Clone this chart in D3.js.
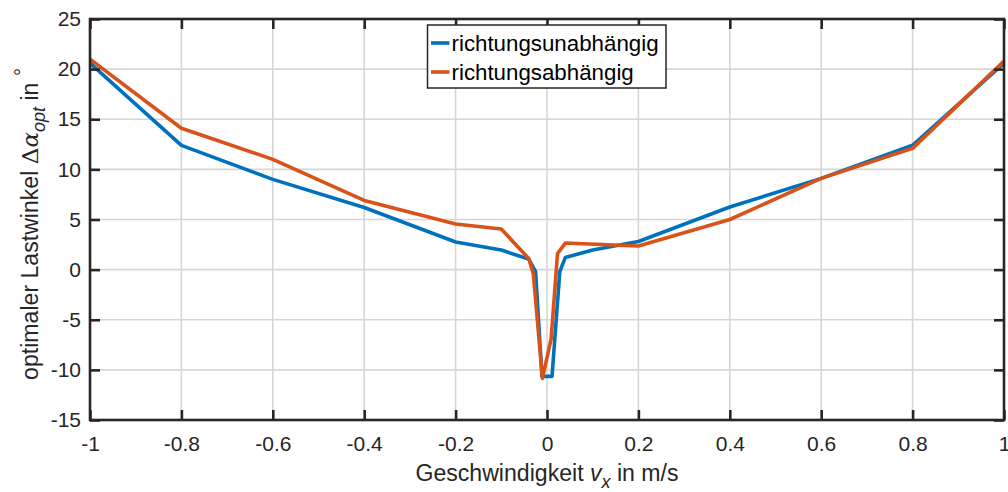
<!DOCTYPE html>
<html>
<head>
<meta charset="utf-8">
<script src="https://cdn.jsdelivr.net/npm/d3@7"></script>
<style>
  html, body { margin: 0; padding: 0; background: #fff; }
  svg { display: block; font-family: "Liberation Sans", Arial, Helvetica, sans-serif; }
</style>
</head>
<body>
<svg id="chart" width="1008" height="492"></svg>
<script>
// ---- data ----
const seriesNames = ["richtungsunabhängig", "richtungsabhängig"];
const seriesColors = ["#0072BD", "#D95319"];

const xBlue = [-1, -0.8, -0.6, -0.4, -0.2, -0.1, -0.04, -0.025, -0.011, 0.011, 0.028, 0.04, 0.1, 0.2, 0.4, 0.6, 0.8, 1];
const yBlue = [20.6, 12.4, 9.0, 6.2, 2.75, 1.95, 1.05, -0.2, -10.65, -10.65, -0.2, 1.2, 1.96, 2.8, 6.25, 9.1, 12.4, 20.6];

const xOrange = [-1, -0.8, -0.6, -0.4, -0.2, -0.1, -0.04, -0.03, -0.01, 0.009, 0.023, 0.04, 0.2, 0.4, 0.6, 0.8, 1];
const yOrange = [21.0, 14.1, 11.0, 6.9, 4.55, 4.05, 1.1, -0.4, -10.85, -6.9, 1.6, 2.65, 2.35, 5.0, 9.1, 12.1, 20.8];

const xTicks = [-1, -0.8, -0.6, -0.4, -0.2, 0, 0.2, 0.4, 0.6, 0.8, 1];
const yTicks = [-15, -10, -5, 0, 5, 10, 15, 20, 25];

// ---- layout ----
const svg = d3.select("#chart");
const m = { left: 90, top: 19, right: 1004, bottom: 420 };
const x = d3.scaleLinear().domain([-1, 1]).range([m.left, m.right]);
const y = d3.scaleLinear().domain([-15, 25]).range([m.bottom, m.top]);
const axisColor = "#262626";
const tickLen = 10;

// grid
const grid = svg.append("g");
grid.selectAll("line.gx").data(xTicks).join("line")
  .attr("x1", d => x(d)).attr("x2", d => x(d))
  .attr("y1", m.top).attr("y2", m.bottom)
  .attr("stroke", "#d6d6d6").attr("stroke-width", 1.6);
grid.selectAll("line.gy").data(yTicks).join("line")
  .attr("y1", d => y(d)).attr("y2", d => y(d))
  .attr("x1", m.left).attr("x2", m.right)
  .attr("stroke", "#d6d6d6").attr("stroke-width", 1.6);

// lines
const series = [
  xBlue.map((v, i) => [v, yBlue[i]]),
  xOrange.map((v, i) => [v, yOrange[i]])
];
const line = d3.line().x(d => x(d[0])).y(d => y(d[1]));
series.forEach((s, i) => {
  svg.append("path").datum(s)
    .attr("d", line)
    .attr("fill", "none")
    .attr("stroke", seriesColors[i])
    .attr("stroke-width", 3.6)
    .attr("stroke-linejoin", "round");
});

// axes (ticks inward on all four sides)
const fs = 21;
const lfs = 23.1;
const bottomAxis = d3.axisBottom(x).tickValues(xTicks).tickSizeInner(-tickLen).tickSizeOuter(0)
  .tickPadding(16).tickFormat(d => String(d));
const topAxis = d3.axisTop(x).tickValues(xTicks).tickSizeInner(-tickLen).tickSizeOuter(0).tickFormat("");
const leftAxis = d3.axisLeft(y).tickValues(yTicks).tickSizeInner(-tickLen).tickSizeOuter(0)
  .tickPadding(9).tickFormat(d => String(d));
const rightAxis = d3.axisRight(y).tickValues(yTicks).tickSizeInner(-tickLen).tickSizeOuter(0).tickFormat("");

function styleAxis(g) {
  g.select(".domain").remove();
  g.selectAll(".tick line").attr("stroke", axisColor).attr("stroke-width", 2.6);
  g.selectAll(".tick text").attr("fill", axisColor).attr("font-size", fs)
    .attr("font-family", "'Liberation Sans', Arial, sans-serif");
}
svg.append("g").attr("transform", `translate(0,${m.bottom})`).call(bottomAxis).call(styleAxis);
svg.append("g").attr("transform", `translate(0,${m.top})`).call(topAxis).call(styleAxis);
svg.append("g").attr("transform", `translate(${m.left},0)`).call(leftAxis).call(styleAxis);
svg.append("g").attr("transform", `translate(${m.right},0)`).call(rightAxis).call(styleAxis);

// frame
svg.append("rect")
  .attr("x", m.left).attr("y", m.top)
  .attr("width", m.right - m.left).attr("height", m.bottom - m.top)
  .attr("fill", "none").attr("stroke", axisColor).attr("stroke-width", 2.6);

// x label
const xl = svg.append("text")
  .attr("x", 547).attr("y", 481)
  .attr("text-anchor", "middle").attr("font-size", lfs).attr("fill", axisColor);
xl.append("tspan").text("Geschwindigkeit ");
xl.append("tspan").attr("font-style", "italic").text("v");
xl.append("tspan").attr("font-style", "italic").attr("font-size", 18).attr("dy", 7).text("x");
xl.append("tspan").attr("dy", -7).text(" in m/s");

// y label
const yl = svg.append("text")
  .attr("transform", `translate(38,${224}) rotate(-90)`)
  .attr("text-anchor", "middle").attr("font-size", lfs).attr("fill", axisColor);
yl.append("tspan").text("optimaler Lastwinkel ");
yl.append("tspan").attr("font-family", "'DejaVu Serif', serif").text("Δ");
yl.append("tspan").attr("font-family", "'DejaVu Serif', serif").attr("font-style", "italic").text("α");
yl.append("tspan").attr("font-style", "italic").attr("font-size", 18).attr("dy", 7).text("opt");
yl.append("tspan").attr("dy", -7).text(" in ");
yl.append("tspan").attr("dy", -9).attr("font-size", 20).text("°");

// legend
const lg = svg.append("g");
lg.append("rect").attr("x", 427.5).attr("y", 25).attr("width", 238.5).attr("height", 63)
  .attr("fill", "#fff").attr("stroke", axisColor).attr("stroke-width", 1.5);
const legY = [43, 72];
seriesNames.forEach((name, i) => {
  lg.append("line").attr("x1", 431).attr("x2", 449.5).attr("y1", legY[i]).attr("y2", legY[i])
    .attr("stroke", seriesColors[i]).attr("stroke-width", 3.6);
  lg.append("text").attr("x", 451.5).attr("y", legY[i] + 8)
    .attr("font-size", 22.3).attr("fill", "#000").text(name);
});
</script>
</body>
</html>
